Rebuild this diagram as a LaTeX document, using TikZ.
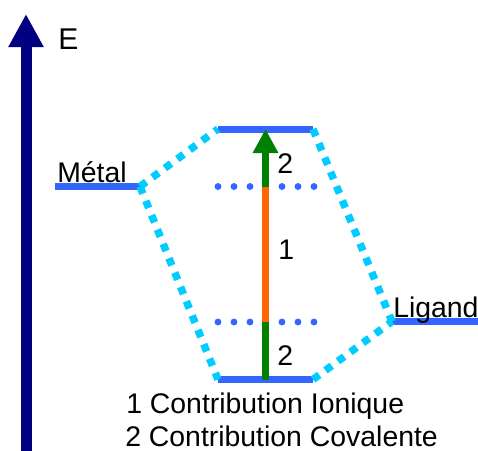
\documentclass[tikz,border=0pt]{standalone}
\usepackage{fontspec}
\setmainfont{Liberation Sans}
\usetikzlibrary{arrows.meta}
\definecolor{navyc}{RGB}{0,0,128}
\definecolor{levelc}{RGB}{51,102,255}
\definecolor{cyanc}{RGB}{0,204,255}
\definecolor{greenc}{RGB}{0,128,0}
\definecolor{orangec}{RGB}{255,102,0}
\begin{document}
\begin{tikzpicture}[x=0.75pt,y=-0.75pt,
  lab/.style={inner sep=0pt,anchor=base west,font=\fontsize{21.3}{25}\selectfont},
  level/.style={draw=levelc,line width=5.25pt},
  corr/.style={draw=cyanc,line width=5.6pt,dash pattern=on 5.8pt off 5.8pt},
  mo/.style={draw=levelc,line width=5.2pt,line cap=round,dash pattern=on 0pt off 12pt},
  shaft/.style={line width=5.25pt}]
\useasboundingbox (0,0) rectangle (478,450);
% energy axis
\coordinate (ebot) at (26,452);
\coordinate (etop) at (26,14);
\draw[navyc,line width=8.25pt,-{Triangle[width=24.75pt,length=24.75pt]}] (ebot) -- (etop);
\node[lab,font=\fontsize{22.5}{27}\selectfont] (E) at (58,49) {E};
% levels
\coordinate (mL) at (55,186.5);
\coordinate (mR) at (140,186.5);
\coordinate (aL) at (218,129);
\coordinate (aR) at (313,129);
\coordinate (bL) at (218,379.5);
\coordinate (bR) at (313,379.5);
\coordinate (lL) at (392,321.5);
\coordinate (lR) at (478,321.5);
\draw[level] (mL) -- (mR);
\draw[level] (aL) -- (aR);
\draw[level] (bL) -- (bR);
\draw[level] (lL) -- (lR);
\node[lab] (metal) at (57,182) {Métal};
\node[lab] (ligand) at (393,317) {Ligand};
% correlation lines
\draw[corr] (mR) -- (aL);
\draw[corr] (mR) -- (bL);
\draw[corr] (aR) -- (lL);
\draw[corr] (bR) -- (lL);
% dotted intermediate levels
\coordinate (u1) at (218,186.5);
\coordinate (u2) at (252,186.5);
\coordinate (u3) at (282,186.5);
\coordinate (u4) at (316,186.5);
\coordinate (d1) at (218,322);
\coordinate (d2) at (252,322);
\coordinate (d3) at (282,322);
\coordinate (d4) at (316,322);
\draw[mo] (u1) -- (u2);
\draw[mo] (u3) -- (u4);
\draw[mo] (d1) -- (d2);
\draw[mo] (d3) -- (d4);
% transition arrow
\coordinate (t0) at (265.5,380);
\coordinate (t1) at (265.5,322);
\coordinate (t2) at (265.5,186.5);
\coordinate (t3) at (265.5,129);
\draw[greenc,shaft] (t0) -- (t1);
\draw[orangec,shaft] (t1) -- (t2);
\draw[greenc,shaft,-{Triangle[width=18pt,length=18pt]}] (t2) -- (t3);
\node[lab] (n2a) at (277,173) {2};
\node[lab] (n1) at (278,259) {1};
\node[lab] (n2b) at (277,365) {2};
% legend
\node[lab] (leg1) at (126,413) {1 Contribution Ionique};
\node[lab] (leg2) at (125,446) {2 Contribution Covalente};
\end{tikzpicture}
\end{document}
